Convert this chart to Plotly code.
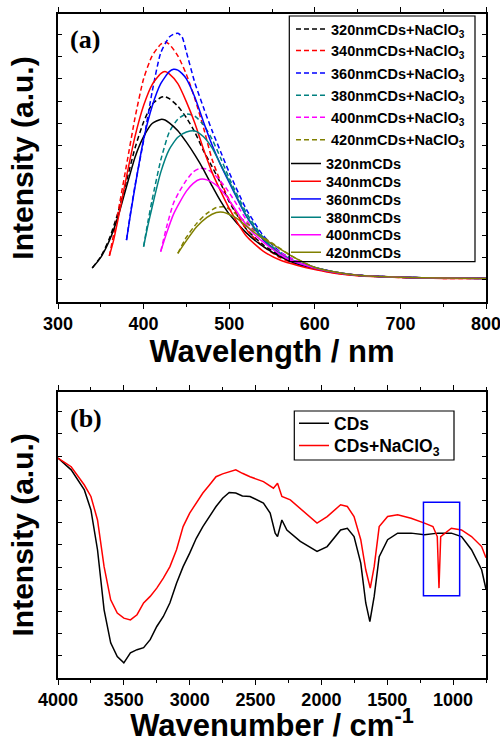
import plotly.graph_objects as go

# ---------------- Panel (a): PL spectra ----------------
wl_320 = [340, 350, 360, 370, 380, 390, 400, 410, 420, 425, 430, 440, 450, 460, 470, 480, 490, 500, 520, 540, 560, 580, 600, 625, 650, 700, 750, 800]
cd_320 = [11.8, 15.5, 21.3, 29.5, 40.0, 50.3, 57.4, 62.0, 63.4, 63.2, 62.2, 59.5, 55.5, 51.0, 46.0, 40.3, 35.0, 30.5, 24.0, 19.2, 15.7, 13.2, 11.7, 10.2, 9.3, 8.6, 8.3, 8.2]
cdn_320 = [11.8, 15.8, 22.0, 31.0, 42.0, 53.5, 62.5, 68.7, 71.0, 71.3, 70.6, 68.0, 64.0, 58.9, 52.5, 47.0, 41.2, 34.8, 25.3, 19.8, 16.0, 13.3, 11.7, 10.2, 9.3, 8.6, 8.3, 8.2]

wl_340 = [360, 365, 370, 380, 390, 400, 410, 420, 425, 430, 440, 450, 460, 470, 480, 490, 500, 520, 540, 560, 580, 600, 625, 650, 700, 750, 800]
cd_340 = [16.0, 21.5, 28.5, 43.5, 57.5, 68.2, 75.5, 79.3, 80.0, 79.2, 75.8, 69.5, 62.0, 53.0, 45.0, 38.5, 32.5, 22.9, 17.6, 14.5, 12.7, 11.3, 9.9, 9.1, 8.5, 8.2, 8.2]
cdn_340 = [16.0, 23.5, 31.0, 47.5, 64.0, 77.5, 85.5, 89.5, 90.3, 89.5, 85.5, 79.0, 70.5, 60.5, 49.5, 41.8, 35.5, 25.2, 19.2, 15.3, 13.0, 11.5, 10.0, 9.2, 8.5, 8.2, 8.2]

wl_360 = [380, 385, 390, 400, 410, 420, 430, 435, 440, 445, 450, 460, 470, 480, 490, 500, 520, 540, 560, 580, 600, 625, 650, 700, 750, 800]
cd_360 = [21.5, 31.0, 40.0, 56.5, 68.0, 75.8, 80.0, 80.8, 80.5, 79.3, 77.5, 71.0, 62.5, 54.5, 47.6, 41.5, 29.8, 21.5, 16.4, 13.5, 11.8, 10.2, 9.3, 8.6, 8.3, 8.2]
cdn_360 = [21.5, 31.5, 40.5, 56.0, 73.0, 86.5, 92.0, 93.0, 93.3, 92.0, 86.8, 76.0, 67.5, 59.5, 52.2, 45.0, 32.2, 23.0, 17.3, 14.0, 12.0, 10.3, 9.3, 8.6, 8.3, 8.2]

wl_380 = [400, 405, 410, 420, 430, 440, 450, 460, 470, 480, 490, 500, 520, 540, 560, 580, 600, 625, 650, 700, 750, 800]
cd_380 = [19.2, 26.5, 33.0, 45.0, 53.0, 57.2, 59.0, 59.4, 57.4, 53.5, 47.7, 42.0, 30.0, 21.8, 16.6, 13.7, 12.0, 10.3, 9.3, 8.6, 8.3, 8.2]
cdn_380 = [19.2, 27.8, 35.5, 49.2, 59.0, 63.5, 65.3, 64.5, 61.5, 56.5, 50.0, 43.0, 31.0, 22.3, 16.9, 13.8, 12.0, 10.3, 9.3, 8.6, 8.3, 8.2]

wl_400 = [420, 427, 435, 442, 450, 458, 466, 474, 485, 497, 513, 528, 544, 567, 600, 625, 650, 700, 750, 800]
cd_400 = [17.5, 24.0, 30.5, 34.5, 38.5, 41.2, 42.6, 42.4, 40.6, 36.6, 29.6, 23.9, 19.8, 15.2, 11.8, 10.2, 9.3, 8.6, 8.3, 8.2]
cdn_400 = [17.5, 26.2, 34.4, 38.5, 42.3, 45.2, 46.4, 46.1, 43.6, 39.3, 31.9, 25.0, 20.4, 15.9, 12.0, 10.3, 9.3, 8.6, 8.3, 8.2]

wl_420 = [440, 450, 462, 474, 485, 493, 497, 509, 521, 536, 552, 571, 600, 625, 650, 700, 750, 800]
cd_420 = [16.9, 21.3, 26.1, 29.4, 31.1, 31.2, 30.8, 29.0, 26.1, 22.7, 19.8, 16.3, 12.0, 10.3, 9.3, 8.6, 8.3, 8.2]
cdn_420 = [16.9, 22.5, 27.3, 30.8, 32.8, 33.1, 32.8, 30.3, 27.3, 23.3, 20.1, 16.3, 12.0, 10.3, 9.3, 8.6, 8.3, 8.2]

exc_labels = ["320", "340", "360", "380", "400", "420"]
colors_a = ["#000000", "#FF0000", "#0000FF", "#008080", "#FF00FF", "#808000"]

# ---------------- Panel (b): FTIR spectra ----------------
wn_cds = [4000, 3900, 3800, 3750, 3700, 3650, 3600, 3550, 3500, 3450, 3400, 3350, 3300, 3250, 3200, 3150,
          3100, 3050, 3000, 2950, 2900, 2850, 2800, 2750, 2700, 2650, 2600, 2542, 2440, 2389, 2351, 2333,
          2300, 2262, 2160, 2033, 1956, 1854, 1803, 1752, 1701, 1663, 1632, 1599, 1561, 1497, 1421, 1319,
          1217, 1115, 1013, 936, 860, 783, 750]
ir_cds = [76.8, 72.7, 65.7, 58.7, 44.8, 23.8, 12.3, 7.5, 5.3, 8.8, 9.9, 10.6, 13.4, 18.0, 21.5, 26.3,
          33.1, 38.9, 43.6, 48.8, 52.9, 56.4, 59.9, 62.8, 64.8, 64.6, 63.6, 63.4, 61.1, 57.6, 50.6, 49.4,
          55.2, 51.7, 47.7, 44.2, 45.9, 51.7, 52.3, 49.4, 40.1, 26.2, 19.7, 28.5, 42.4, 48.3, 50.6, 50.6,
          50.0, 50.6, 50.6, 49.4, 44.8, 37.8, 31.0]

wn_cdn = [4000, 3900, 3800, 3750, 3700, 3650, 3600, 3550, 3500, 3450, 3400, 3350, 3300, 3250, 3200, 3150,
          3100, 3050, 3000, 2950, 2900, 2850, 2800, 2750, 2700, 2650, 2600, 2542, 2440, 2364, 2333, 2300,
          2236, 2134, 2033, 1956, 1854, 1803, 1752, 1701, 1663, 1629, 1599, 1561, 1497, 1421, 1319, 1217,
          1153, 1120, 1107, 1094, 1064, 1013, 936, 860, 783, 750]
ir_cdn = [76.8, 73.8, 67.4, 63.4, 55.2, 38.9, 27.3, 22.7, 20.9, 20.3, 22.1, 26.2, 28.5, 31.4, 34.9, 38.9,
          44.8, 52.9, 57.6, 61.1, 64.6, 67.4, 70.3, 71.3, 72.1, 72.7, 71.5, 70.3, 68.6, 66.3, 68.0, 63.4,
          62.2, 58.1, 54.1, 56.4, 60.5, 59.9, 56.4, 48.3, 37.8, 31.4, 38.9, 52.9, 56.4, 57.0, 55.8, 54.1,
          52.9, 49.4, 31.4, 49.4, 50.6, 52.3, 51.7, 49.4, 45.9, 42.0]

box_wn = [1225, 950]
box_int = [28.7, 61.4]

# ---------------- Figure ----------------
W, H = 500, 743
ML, MR, MT, MB = 58, 14, 14, 65
PW, PH = W - ML - MR, H - MT - MB

def px_x(p):
    return (p - ML) / PW

def px_y(p):
    return (H - MB - p) / PH

SANS = "Arial, Liberation Sans, Helvetica, sans-serif"
SERIF = "Times New Roman, Liberation Serif, serif"
fig = go.Figure()

wl_sets = [wl_320, wl_340, wl_360, wl_380, wl_400, wl_420]
cdn_sets = [cdn_320, cdn_340, cdn_360, cdn_380, cdn_400, cdn_420]
cd_sets = [cd_320, cd_340, cd_360, cd_380, cd_400, cd_420]

legfont = dict(family=SANS, size=14.5, color="black", weight="bold")
legends = {}
dash_rows = [29, 50.5, 73, 95.3, 117.3, 139.7]
solid_rows = [163.5, 181.3, 199, 217.3, 234.7, 252.3]
k = 0
for i, (lab, col, wl, ys) in enumerate(zip(exc_labels, colors_a, wl_sets, cdn_sets)):
    k += 1
    lg = "legend" if k == 1 else f"legend{k}"
    legends[lg] = dict(x=px_x(291), y=px_y(dash_rows[i]), xanchor="left", yanchor="middle", font=legfont,
                       bgcolor="rgba(0,0,0,0)", borderwidth=0)
    fig.add_trace(go.Scatter(x=wl, y=ys, mode="lines", name=f"{lab}nmCDs+NaClO<sub>3</sub>",
                             line=dict(color=col, width=1.5, dash="5px,3px", shape="spline", smoothing=0.6),
                             xaxis="x", yaxis="y", legend=lg))
for i, (lab, col, wl, ys) in enumerate(zip(exc_labels, colors_a, wl_sets, cd_sets)):
    k += 1
    lg = f"legend{k}"
    legends[lg] = dict(x=px_x(286), y=px_y(solid_rows[i]), xanchor="left", yanchor="middle", font=legfont,
                       bgcolor="rgba(0,0,0,0)", borderwidth=0)
    fig.add_trace(go.Scatter(x=wl, y=ys, mode="lines", name=f"{lab}nmCDs",
                             line=dict(color=col, width=1.5, shape="spline", smoothing=0.6),
                             xaxis="x", yaxis="y", legend=lg))

legfont_b = dict(family=SANS, size=17.5, color="black", weight="bold")
for name, wn, ir, col, row in [("CDs", wn_cds, ir_cds, "#000000", 423.3),
                               ("CDs+NaClO<sub>3</sub>", wn_cdn, ir_cdn, "#FF0000", 445.5)]:
    k += 1
    lg = f"legend{k}"
    legends[lg] = dict(x=px_x(294), y=px_y(row), xanchor="left", yanchor="middle", font=legfont_b,
                       bgcolor="rgba(0,0,0,0)", borderwidth=0)
    fig.add_trace(go.Scatter(x=wn, y=ir, mode="lines", name=name,
                             line=dict(color=col, width=1.5), xaxis="x2", yaxis="y2", legend=lg))

tickfont = dict(family=SANS, size=18, color="black", weight="bold")
titlefont_x = dict(family=SANS, size=31, color="black", weight="bold")
titlefont_y = dict(family=SANS, size=30, color="black", weight="bold")

common_x = dict(showline=True, linecolor="black", linewidth=1.5, mirror="ticks", ticks="outside",
                ticklen=5, tickwidth=1.2, tickcolor="black", tickfont=tickfont, showgrid=False, zeroline=False,
                automargin=False, ticklabeloverflow="allow")
common_y = dict(showline=True, linecolor="black", linewidth=1.5, mirror="ticks", ticks="inside",
                ticklen=4, tickwidth=1.2, tickcolor="black", showticklabels=False, showgrid=False,
                zeroline=False, tick0=0, dtick=7.75, range=[0, 100], automargin=False)

fig.update_layout(
    width=W, height=H,
    margin=dict(l=ML, r=MR, t=MT, b=MB, autoexpand=False),
    paper_bgcolor="white", plot_bgcolor="white",
    xaxis=dict(domain=[0, 1], anchor="y", range=[300, 800], dtick=100,
               minor=dict(dtick=50, ticks="outside", ticklen=3, tickcolor="black"),
               title=dict(text="Wavelength / nm", font=titlefont_x, standoff=4), **common_x),
    yaxis=dict(domain=[px_y(302), 1.0], anchor="x",
               title=dict(text="Intensity (a.u.)", font=titlefont_y, standoff=14), **common_y),
    xaxis2=dict(domain=[0, 1], anchor="y2", range=[4000, 750], dtick=500,
                minor=dict(dtick=250, ticks="outside", ticklen=3, tickcolor="black"),
                title=dict(text="Wavenumber / cm<sup>-1</sup>", font=titlefont_x, standoff=4), **common_x),
    yaxis2=dict(domain=[0, px_y(391.7)], anchor="x2",
                title=dict(text="Intensity (a.u.)", font=titlefont_y, standoff=14), **common_y),
    showlegend=True,
    **legends,
)

# Legend frames
fig.add_shape(type="rect", xref="paper", yref="paper", x0=px_x(289.3), x1=px_x(475), y0=px_y(261.7), y1=px_y(16),
              line=dict(color="black", width=1.2), fillcolor="rgba(0,0,0,0)", layer="above")
fig.add_shape(type="rect", xref="paper", yref="paper", x0=px_x(294.3), x1=px_x(454), y0=px_y(460), y1=px_y(411),
              line=dict(color="black", width=1.2), fillcolor="rgba(0,0,0,0)", layer="above")
# Highlight box on FTIR panel
fig.add_shape(type="rect", xref="x2", yref="y2", x0=box_wn[0], x1=box_wn[1], y0=box_int[0], y1=box_int[1],
              line=dict(color="#0000FF", width=1.5), fillcolor="rgba(0,0,0,0)")

fig.add_annotation(text="(a)", xref="paper", yref="paper", x=px_x(68), y=px_y(39), xanchor="left",
                   yanchor="middle", showarrow=False, font=dict(family=SERIF, size=26, color="black", weight="bold"))
fig.add_annotation(text="(b)", xref="paper", yref="paper", x=px_x(68), y=px_y(418), xanchor="left",
                   yanchor="middle", showarrow=False, font=dict(family=SERIF, size=26, color="black", weight="bold"))

fig.write_html("out.html", config={"displayModeBar": False},
               post_script="document.body.style.margin='0px';")
